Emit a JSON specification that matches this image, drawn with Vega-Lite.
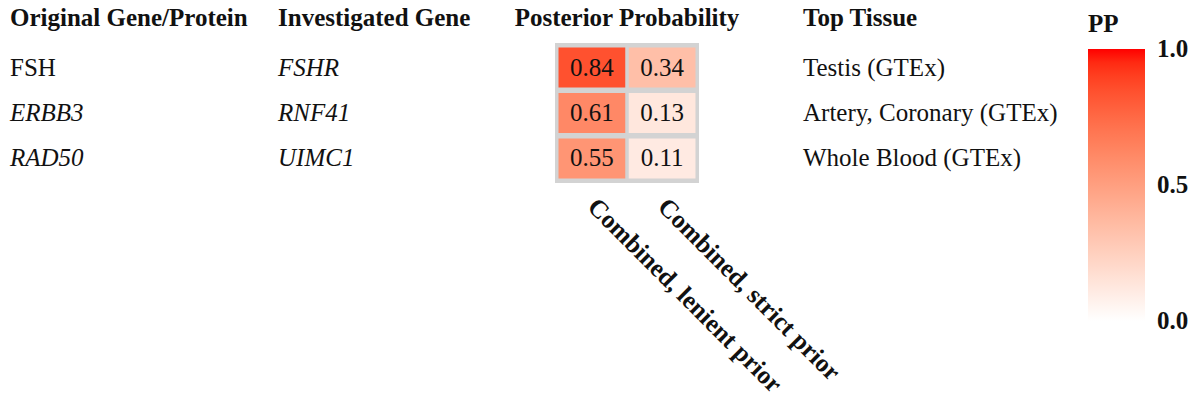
{
  "$schema": "https://vega.github.io/schema/vega-lite/v6.json",
  "background": "white",
  "padding": {"left": 10, "top": 6, "right": 5, "bottom": 5},
  "bounds": "flush",
  "spacing": 104,
  "config": {"font": "Liberation Serif", "view": {"stroke": null}, "text": {"font": "Liberation Serif"},
    "title": {"fontSize": 25, "fontWeight": "bold", "font": "Liberation Serif", "color": "#111", "offset": 12, "frame": "group"}},
  "data": {"values": [
    {"original": "FSH", "original_kind": "protein", "investigated": "FSHR", "lenient": 0.84, "strict": 0.34, "tissue": "Testis (GTEx)"},
    {"original": "ERBB3", "original_kind": "gene", "investigated": "RNF41", "lenient": 0.61, "strict": 0.13, "tissue": "Artery, Coronary (GTEx)"},
    {"original": "RAD50", "original_kind": "gene", "investigated": "UIMC1", "lenient": 0.55, "strict": 0.11, "tissue": "Whole Blood (GTEx)"}
  ]},
  "resolve": {"scale": {"x": "independent", "y": "shared"}},
  "hconcat": [
    {
      "width": 164, "height": 140,
      "title": {"text": "Original Gene/Protein", "anchor": "start"},
      "encoding": {
        "x": {"datum": "Original Gene/Protein", "type": "nominal", "bandPosition": 0,
          "scale": {"type": "band", "paddingInner": 0, "paddingOuter": 0}, "axis": null},
        "y": {"field": "investigated", "type": "nominal", "sort": ["FSHR", "RNF41", "UIMC1"], "axis": null, "scale": {"paddingInner": 0.12, "paddingOuter": 0.1}},
        "text": {"field": "original"}
      },
      "layer": [
        {"transform": [{"filter": "datum.original_kind === 'gene'"}], "mark": {"type": "text", "align": "left", "baseline": "middle", "fontSize": 25, "fontStyle": "italic", "color": "#111"}},
        {"transform": [{"filter": "datum.original_kind !== 'gene'"}], "mark": {"type": "text", "align": "left", "baseline": "middle", "fontSize": 25, "color": "#111"}}
      ]
    },
    {
      "width": 173, "height": 140,
      "title": {"text": "Investigated Gene", "anchor": "start"},
      "mark": {"type": "text", "align": "left", "baseline": "middle", "fontSize": 25, "fontStyle": "italic", "color": "#111"},
      "encoding": {
        "x": {"datum": "Investigated Gene", "type": "nominal", "bandPosition": 0,
          "scale": {"type": "band", "paddingInner": 0, "paddingOuter": 0}, "axis": null},
        "y": {"field": "investigated", "type": "nominal", "sort": ["FSHR", "RNF41", "UIMC1"], "axis": null, "scale": {"paddingInner": 0.12, "paddingOuter": 0.1}},
        "text": {"field": "investigated"}
      }
    },
    {
      "width": 144, "height": 140,
      "view": {"fill": "#d3d3d3", "stroke": null},
      "title": {"text": "Posterior Probability", "anchor": "middle"},
      "transform": [{"fold": ["lenient", "strict"], "as": ["prior", "pp"]}],
      "encoding": {
        "x": {"field": "prior", "type": "nominal", "sort": ["lenient", "strict"],
          "scale": {"paddingInner": 0.05, "paddingOuter": 0.05},
          "axis": {"orient": "bottom", "title": null, "ticks": false, "domain": false, "labelAngle": 45, "labelAlign": "left", "labelBaseline": "middle", "labelFontWeight": "bold", "labelFontSize": 25.5, "labelFont": "Liberation Serif", "labelColor": "#111", "labelPadding": 19, "labelLimit": 600, "labelBound": false, "labelOverlap": false,
            "labelExpr": "datum.value === 'lenient' ? 'Combined, lenient prior' : 'Combined, strict prior'"}},
        "y": {"field": "investigated", "type": "nominal", "sort": ["FSHR", "RNF41", "UIMC1"], "axis": null, "scale": {"paddingInner": 0.12, "paddingOuter": 0.1}}
      },
      "layer": [
        {"mark": {"type": "rect"},
         "encoding": {"color": {"field": "pp", "type": "quantitative",
           "scale": {"domain": [0, 1], "range": ["#ffffff", "#ff0000"], "interpolate": "lab"},
           "legend": {"title": "PP", "titleFont": "Liberation Serif", "titleFontSize": 25, "titleFontWeight": "bold", "titleColor": "#111", "labelFont": "Liberation Serif", "labelFontSize": 25, "labelFontWeight": "bold", "labelColor": "#111", "labelBaseline": "middle", "gradientLength": 272, "gradientThickness": 57, "values": [0, 0.5, 1], "format": ".1f", "direction": "vertical", "orient": "none", "legendX": 1078, "legendY": -31, "titlePadding": 12, "gradientStrokeWidth": 0, "labelOffset": 12,
             "encode": {"labels": {"update": {"baseline": {"value": "middle"}}}}}}}},
        {"mark": {"type": "text", "fontSize": 25, "color": "#111", "baseline": "middle"},
         "encoding": {"text": {"field": "pp", "type": "quantitative", "format": ".2f"}}}
      ]
    },
    {
      "width": 180, "height": 140,
      "title": {"text": "Top Tissue", "anchor": "start"},
      "mark": {"type": "text", "align": "left", "baseline": "middle", "fontSize": 25, "color": "#111"},
      "encoding": {
        "x": {"datum": "Top Tissue", "type": "nominal", "bandPosition": 0,
          "scale": {"type": "band", "paddingInner": 0, "paddingOuter": 0}, "axis": null},
        "y": {"field": "investigated", "type": "nominal", "sort": ["FSHR", "RNF41", "UIMC1"], "axis": null, "scale": {"paddingInner": 0.12, "paddingOuter": 0.1}},
        "text": {"field": "tissue"}
      }
    }
  ]
}
